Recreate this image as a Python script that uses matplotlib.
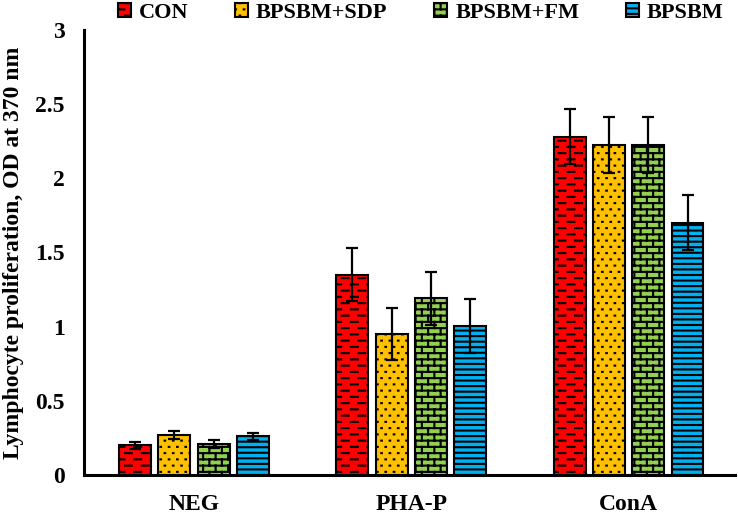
import numpy as np
import matplotlib
matplotlib.use("Agg")
import matplotlib.pyplot as plt
from matplotlib import hatch as mhatch
from matplotlib.path import Path
import warnings
warnings.filterwarnings("ignore")

categories = ["NEG", "PHA-P", "ConA"]
series = ["CON", "BPSBM+SDP", "BPSBM+FM", "BPSBM"]
values = {
    "CON":       [0.20, 1.35, 2.28],
    "BPSBM+SDP": [0.27, 0.95, 2.225],
    "BPSBM+FM":  [0.21, 1.19, 2.225],
    "BPSBM":     [0.26, 1.005, 1.70],
}
errors = {
    "CON":       [0.025, 0.18, 0.185],
    "BPSBM+SDP": [0.03, 0.175, 0.19],
    "BPSBM+FM":  [0.025, 0.18, 0.19],
    "BPSBM":     [0.025, 0.18, 0.186],
}
colors = ["#FF0000", "#FFC000", "#92D050", "#00B0F0"]
hatches = ["d", "p", "b", "---"]
yticks = [0, 0.5, 1, 1.5, 2, 2.5, 3]
ytick_labels = ["0", "0.5", "1", "1.5", "2", "2.5", "3"]


class DashHatch(mhatch.HatchPatternBase):
    def __init__(self, hatch, density):
        self.rows = 16 if "d" in hatch else 0
        self.cols = 6
        self.num_vertices = self.rows * self.cols * 2

    def set_vertices_and_codes(self, vertices, codes):
        k = 0
        for r in range(self.rows):
            y = (r + 0.5) / self.rows
            for c in range(self.cols):
                if r % 2 == 0:
                    x0 = c / self.cols + 0.05 / self.cols
                else:
                    x0 = c / self.cols + 0.5 / self.cols
                x1 = x0 + 0.42 / self.cols
                vertices[k] = (x0, y)
                vertices[k + 1] = (x1, y)
                codes[k] = Path.MOVETO
                codes[k + 1] = Path.LINETO
                k += 2


class DotHatch(mhatch.HatchPatternBase):
    def __init__(self, hatch, density):
        self.rows = 16 if "p" in hatch else 0
        self.cols = 12
        self.num_vertices = self.rows * self.cols * 2

    def set_vertices_and_codes(self, vertices, codes):
        k = 0
        for r in range(self.rows):
            y = (r + 0.5) / self.rows
            for c in range(self.cols):
                x0 = (c + 0.25 + 0.5 * (r % 2)) / self.cols
                vertices[k] = (x0, y)
                vertices[k + 1] = (x0 + 0.006, y)
                codes[k] = Path.MOVETO
                codes[k + 1] = Path.LINETO
                k += 2


class BrickHatch(mhatch.HatchPatternBase):
    def __init__(self, hatch, density):
        self.rows = 16 if "b" in hatch else 0
        self.cols = 8
        self.num_vertices = self.rows * 2 + self.rows * self.cols * 2 + (self.cols * 2 if self.rows else 0)

    def set_vertices_and_codes(self, vertices, codes):
        k = 0
        n = self.rows
        for r in range(n):
            y = (r + 0.5) / n
            vertices[k] = (0, y)
            vertices[k + 1] = (1, y)
            codes[k] = Path.MOVETO
            codes[k + 1] = Path.LINETO
            k += 2
        for r in range(n):
            y0 = (r + 0.5) / n
            y1 = min((r + 1.5) / n, 1.0)
            for c in range(self.cols):
                x = (c + 0.25 + 0.5 * (r % 2)) / self.cols
                vertices[k] = (x, y0)
                vertices[k + 1] = (x, y1)
                codes[k] = Path.MOVETO
                codes[k + 1] = Path.LINETO
                k += 2
        r = n - 1
        for c in range(self.cols):
            x = (c + 0.25 + 0.5 * (r % 2)) / self.cols
            vertices[k] = (x, 0.0)
            vertices[k + 1] = (x, 0.5 / n)
            codes[k] = Path.MOVETO
            codes[k + 1] = Path.LINETO
            k += 2


mhatch._hatch_types.append(DashHatch)
mhatch._hatch_types.append(DotHatch)
mhatch._hatch_types.append(BrickHatch)

plt.rcParams["font.family"] = ["Liberation Serif", "DejaVu Serif"]
plt.rcParams["font.weight"] = "bold"
plt.rcParams["hatch.linewidth"] = 1.5
plt.rcParams["hatch.color"] = "black"

fig = plt.figure(figsize=(7.38, 5.16), dpi=100)
ax = fig.add_axes([84 / 738, 1 - 475 / 516, (735 - 84) / 738, (475 - 30) / 516])

x = np.arange(len(categories))
pitch = 0.181
width = 0.147
handles = []
for i, s in enumerate(series):
    pos = x + (i - 1.5) * pitch
    b = ax.bar(pos, values[s], width=width, color=colors[i], edgecolor="black",
               linewidth=1.5, hatch=hatches[i], label=s, zorder=2)
    ax.errorbar(pos, values[s], yerr=errors[s], fmt="none", ecolor="black",
                elinewidth=1.6, capsize=4.5, capthick=1.6, zorder=3)
    handles.append(b)

ax.set_ylim(0, 3)
ax.set_xlim(-0.506, 2.49)
ax.set_yticks(yticks)
ax.set_yticklabels(ytick_labels)
ax.set_xticks(x)
ax.set_xticklabels(categories)
ax.tick_params(axis="both", length=0, labelsize=17)
ax.tick_params(axis="y", pad=14)
ax.tick_params(axis="x", pad=14)
for lbl in ax.get_xticklabels() + ax.get_yticklabels():
    lbl.set_fontweight("bold")

for sp in ["top", "right"]:
    ax.spines[sp].set_visible(False)
for sp in ["left", "bottom"]:
    ax.spines[sp].set_linewidth(2.2)
    ax.spines[sp].set_color("black")

ax.set_ylabel("Lymphocyte proliferation, OD at 370 nm", fontsize=17, fontweight="bold")
ax.yaxis.set_label_coords((24 - 84) / 651, 0.5)

leg = fig.legend(handles=handles, labels=series, loc="center", ncol=4,
                 bbox_to_anchor=(0.570, 0.975), frameon=False,
                 prop={"size": 16, "weight": "bold"}, handlelength=0.6,
                 handleheight=0.6, handletextpad=0.35, columnspacing=2.1,
                 borderaxespad=0)

fig.savefig("out.png", dpi=100)
